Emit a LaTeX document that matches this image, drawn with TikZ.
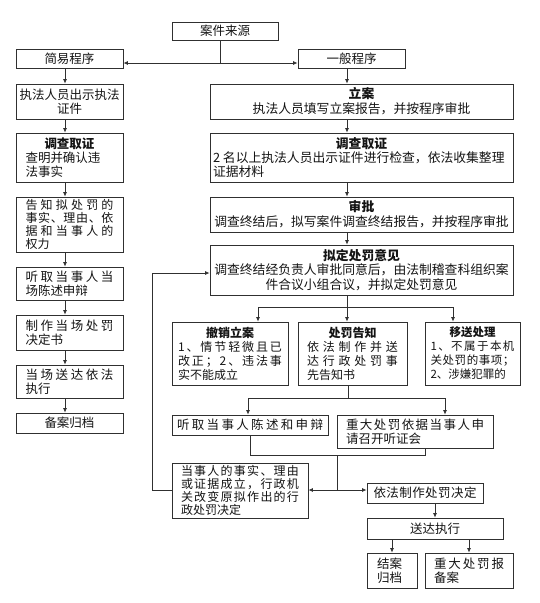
\documentclass[tikz,border=0pt]{standalone}
\usepackage{fontspec}
\newfontfamily\cjk{Noto Sans CJK SC}
\usetikzlibrary{arrows.meta}
\definecolor{lc}{HTML}{303030}
\definecolor{tc}{HTML}{141414}
\def\sprd#1{#1\sprdnext}
\def\sprdnext#1{\ifx\relax#1\else\hfill#1\expandafter\sprdnext\fi}
\newcommand\bx[3][14pt]{\vbox{\hsize=#2\relax\baselineskip=#1\relax\lineskiplimit=-10pt\lineskip=0pt #3}}
\newcommand\tlC[1]{\hbox to\hsize{\hfil#1\hfil}}
\newcommand\tlL[1]{\hbox to\hsize{#1\hfil}}
\newcommand\tlS[1]{\hbox to\hsize{\sprd#1\relax}}
\tikzset{
  box/.style={draw=lc, line width=0.8pt, inner sep=0pt, text=tc,
    font=\cjk\fontsize{12.5pt}{14pt}\selectfont},
  fR/.style={font=\cjk\fontsize{12.8pt}{14pt}\selectfont},
  fS/.style={font=\cjk\fontsize{12pt}{13pt}\selectfont},
  fT/.style={font=\cjk\fontsize{11.5pt}{13pt}\selectfont},
  ln/.style={draw=lc, line width=0.8pt},
  arr/.style={-{Latex[length=4.5pt,width=4pt]}},
}
\begin{document}
\begin{tikzpicture}[x=1pt,y=-1pt]
\fill[white] (0,0) rectangle (539,603);
\useasboundingbox (0,0) rectangle (539,603);

% top
\node[box,minimum width=106pt,minimum height=18pt] (src) at (225,31) {案件来源};
\node[box,minimum width=107pt,minimum height=19pt] (jy) at (69.5,58.5) {简易程序};
\node[box,minimum width=107pt,minimum height=19pt] (yb) at (351.5,58.5) {一般程序};

% left column
\node[box,minimum width=107pt,minimum height=35pt] (L1) at (69.5,101.5)
  {\bx{106pt}{\tlC{执法人员出示执法}\tlC{证件}}};
\node[box,minimum width=107pt,minimum height=49pt] (L2) at (69.5,157.5)
  {\bx{88pt}{\tlC{\bfseries 调查取证}\tlL{查明并确认违}\tlL{法事实}}};
\node[box,fS,minimum width=107pt,minimum height=55pt] (L3) at (69.5,224.5)
  {\bx[13pt]{88pt}{\tlS{告知拟处罚的}\tlS{事实、理由、依}\tlS{据和当事人的}\tlL{权力}}};
\node[box,minimum width=107pt,minimum height=33pt] (L4) at (69.5,283.5)
  {\bx{88pt}{\tlS{听取当事人当}\tlL{场陈述申辩}}};
\node[box,minimum width=107pt,minimum height=35pt] (L5) at (69.5,332.5)
  {\bx{88pt}{\tlS{制作当场处罚}\tlL{决定书}}};
\node[box,minimum width=107pt,minimum height=33pt] (L6) at (69.5,381.5)
  {\bx{88pt}{\tlS{当场送达依法}\tlL{执行}}};
\node[box,minimum width=107pt,minimum height=20pt] (L7) at (69.5,423) {备案归档};

% right column
\node[box,fR,minimum width=303pt,minimum height=35pt] (R1) at (361.5,101.5)
  {\bx[15pt]{297pt}{\tlC{\bfseries 立案}\tlC{执法人员填写立案报告，并按程序审批}}};
\node[box,fR,minimum width=303pt,minimum height=49pt] (R2) at (361.5,157.5)
  {\bx[14pt]{297pt}{\tlC{\bfseries 调查取证}\tlL{2 名以上执法人员出示证件进行检查，依法收集整理}\tlL{证据材料}}};
\node[box,fR,minimum width=303pt,minimum height=35pt] (R3) at (361.5,214.5)
  {\bx[15pt]{297pt}{\tlC{\bfseries 审批}\tlC{调查终结后，拟写案件调查终结报告，并按程序审批}}};
\node[box,fR,minimum width=303pt,minimum height=50pt] (R4) at (361.5,270)
  {\bx[14.5pt]{297pt}{\tlC{\bfseries 拟定处罚意见}\tlC{调查终结经负责人审批同意后，由法制稽查科组织案}\tlC{件合议小组合议，并拟定处罚意见}}};

% three branches
\node[box,fS,minimum width=116pt,minimum height=63pt] (B1) at (230,353.5)
  {\bx{104pt}{\tlC{\bfseries 撤销立案}\tlS{1、情节轻微且已}\tlS{改正；2、违法事}\tlL{实不能成立}}};
\node[box,fS,minimum width=109pt,minimum height=63pt] (B2) at (352.5,353.5)
  {\bx{91pt}{\tlC{\bfseries 处罚告知}\tlS{依法制作并送}\tlS{达行政处罚事}\tlL{先告知书}}};
\node[box,fT,minimum width=95pt,minimum height=63pt] (B3) at (472.5,353.5)
  {\bx{84pt}{\tlC{\bfseries 移送处理}\tlS{1、不属于本机}\tlS{关处罚的事项；}\tlL{2、涉嫌犯罪的}}};

% hearing
\node[box,minimum width=156pt,minimum height=20pt] (C1) at (250,425)
  {\bx{146pt}{\tlS{听取当事人陈述和申辩}}};
\node[box,minimum width=156pt,minimum height=33pt] (C2) at (415,431.5)
  {\bx{138pt}{\tlS{重大处罚依据当事人申}\tlL{请召开听证会}}};

% decision
\node[box,fS,minimum width=136pt,minimum height=55pt] (D1) at (240,490.5)
  {\bx[12.8pt]{118pt}{\tlS{当事人的事实、理由}\tlS{或证据成立，行政机}\tlS{关改变原拟作出的行}\tlL{政处罚决定}}};
\node[box,minimum width=116pt,minimum height=20pt] (D2) at (425,493)
  {\bx{103pt}{\tlS{依法制作处罚决定}}};
\node[box,minimum width=136pt,minimum height=21pt] (E1) at (435,528.5) {送达执行};
\node[box,minimum width=50pt,minimum height=35pt] (F1) at (392,570.5)
  {\bx{30pt}{\tlL{结案}\tlL{归档}}};
\node[box,minimum width=88pt,minimum height=35pt] (F2) at (469,570.5)
  {\bx{70pt}{\tlS{重大处罚报}\tlL{备案}}};

% connectors: top split
\coordinate (j0) at (220,63);
\draw[ln] (src.south -| j0) -- (j0);
\draw[ln,arr] (j0) -- (j0 -| jy.east);
\draw[ln,arr] (j0) -- (j0 -| yb.west);

% left column chain
\coordinate (lx) at (65,0);
\draw[ln,arr] (jy.south -| lx) -- (L1.north -| lx);
\draw[ln,arr] (L1.south -| lx) -- (L2.north -| lx);
\draw[ln,arr] (L2.south -| lx) -- (L3.north -| lx);
\draw[ln,arr] (L3.south -| lx) -- (L4.north -| lx);
\draw[ln,arr] (L4.south -| lx) -- (L5.north -| lx);
\draw[ln,arr] (L5.south -| lx) -- (L6.north -| lx);
\draw[ln,arr] (L6.south -| lx) -- (L7.north -| lx);

% right column chain
\coordinate (rx) at (347,0);
\draw[ln,arr] (yb.south -| rx) -- (R1.north -| rx);
\draw[ln,arr] (R1.south -| rx) -- (R2.north -| rx);
\draw[ln,arr] (R2.south -| rx) -- (R3.north -| rx);
\draw[ln,arr] (R3.south -| rx) -- (R4.north -| rx);

% three-way branch
\coordinate (b0) at (347,307);
\coordinate (b1) at (258,307);
\coordinate (b3) at (453,307);
\draw[ln] (R4.south -| b0) -- (b0);
\draw[ln] (b1) -- (b3);
\draw[ln,arr] (b1) -- (b1 |- B1.north);
\draw[ln,arr] (b0) -- (b0 |- B2.north);
\draw[ln,arr] (b3) -- (b3 |- B3.north);

% two-way branch
\coordinate (c0) at (348,398);
\coordinate (c1) at (248,398);
\coordinate (c2) at (445,398);
\draw[ln] (B2.south -| c0) -- (c0);
\draw[ln] (c1) -- (c2);
\draw[ln,arr] (c1) -- (c1 |- C1.north);
\draw[ln,arr] (c2) -- (c2 |- C2.north);

% merge
\coordinate (m1) at (250,455);
\coordinate (m2) at (425,455);
\coordinate (m0) at (337,455);
\coordinate (m3) at (337,490);
\draw[ln] (C1.south -| m1) -- (m1) -- (m2) -- (C2.south -| m2);
\draw[ln] (m0) -- (m3);
\draw[ln,arr] (m3) -- (m3 -| D1.east);
\draw[ln,arr] (m3) -- (m3 -| D2.west);

% loop back
\coordinate (lp) at (152,273);
\draw[ln,arr] (D1.west) -| (lp) -- (lp -| R4.west);

% final
\draw[ln,arr] (D2.south -| E1.north) -- (E1.north);
\draw[ln,arr] (E1.south -| F1.north) -- (F1.north);
\draw[ln,arr] (E1.south -| F2.north) -- (F2.north);
\end{tikzpicture}
\end{document}
